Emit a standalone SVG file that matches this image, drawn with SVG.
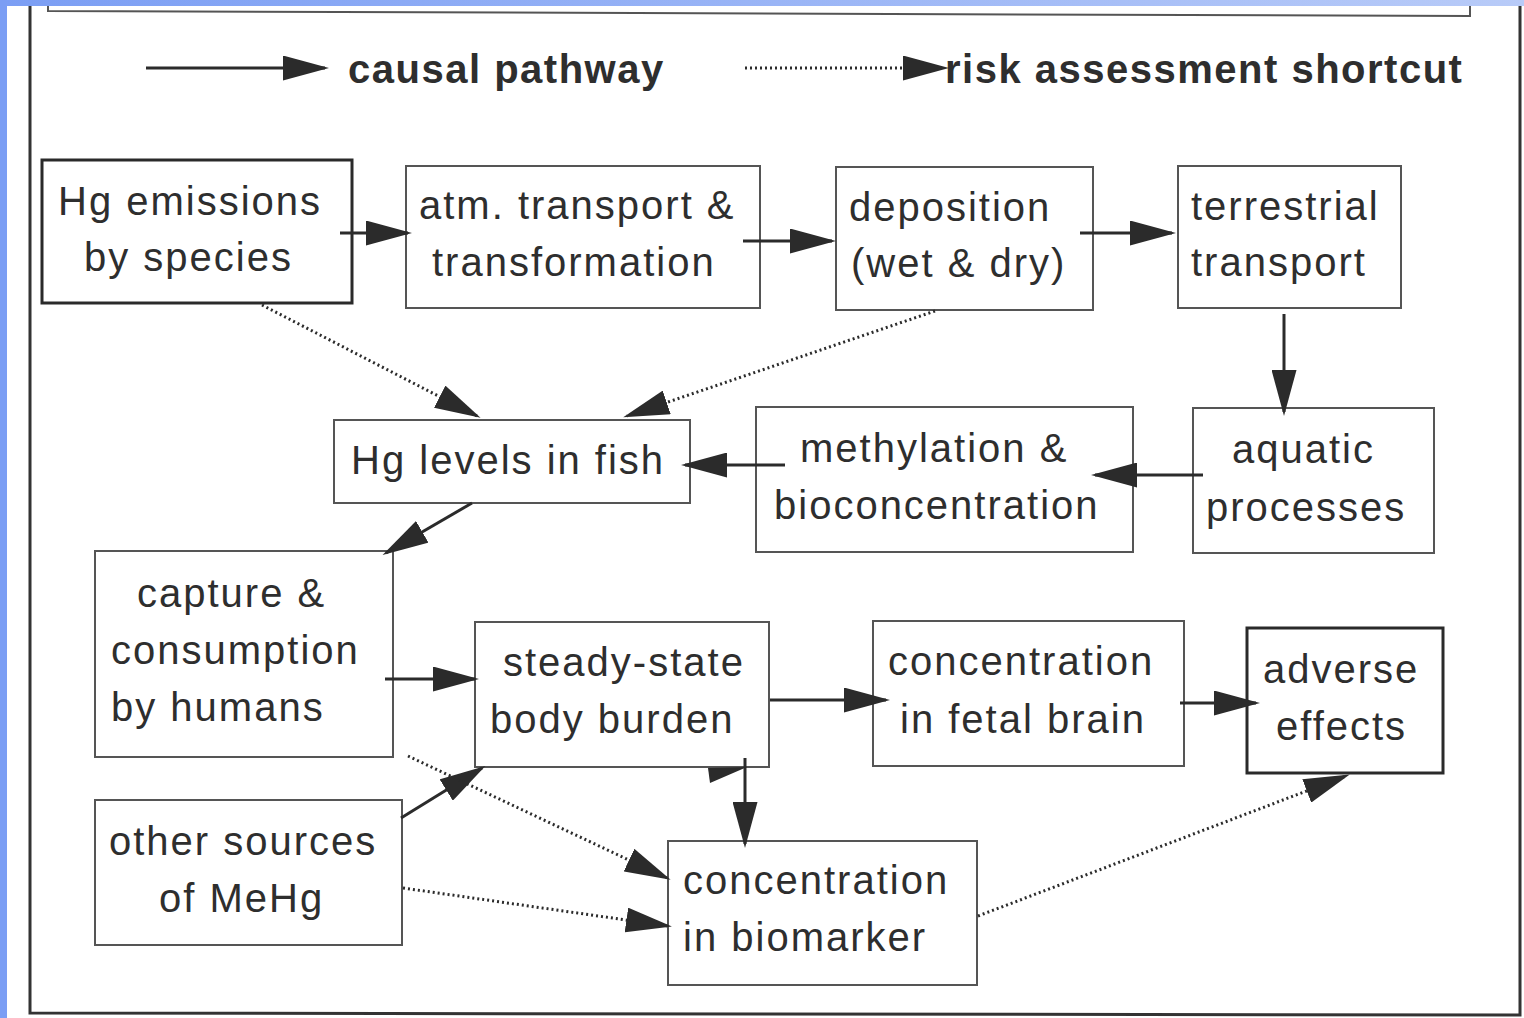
<svg xmlns="http://www.w3.org/2000/svg" width="1524" height="1018" viewBox="0 0 1524 1018">
<defs>
<linearGradient id="topg" x1="0" y1="0" x2="1" y2="0">
<stop offset="0" stop-color="#7b9ef4"/>
<stop offset="1" stop-color="#b8cbf8"/>
</linearGradient>
<marker id="ah" viewBox="0 0 46 25" refX="42" refY="12.5" markerWidth="46" markerHeight="25" markerUnits="userSpaceOnUse" orient="auto">
<path d="M0,0 L46,12.5 L0,25 Z" fill="#2b2b2b"/>
</marker>
<style>
.box{fill:#fff;stroke:#555;stroke-width:2}
.boxb{fill:#fff;stroke:#2a2a2a;stroke-width:3}
.t{font-family:"Liberation Sans",Arial,sans-serif;font-size:40px;letter-spacing:2px;fill:#2e2e2e}
.lg{font-family:"Liberation Sans",Arial,sans-serif;font-size:40px;font-weight:bold;letter-spacing:1.5px;fill:#2e2e2e}
.s{fill:none;stroke:#2b2b2b;stroke-width:3;marker-end:url(#ah)}
.d{fill:none;stroke:#2b2b2b;stroke-width:3;stroke-dasharray:2 3;marker-end:url(#ah)}
.fr{fill:none;stroke:#333;stroke-width:3}
</style>
</defs>
<rect x="0" y="0" width="1524" height="1018" fill="#fff"/>
<rect x="0" y="0" width="1524" height="6" fill="url(#topg)"/>
<rect x="0" y="0" width="7" height="1018" fill="#7b9ef4"/>
<g id="frame">
<polyline class="fr" points="30,6 30,1013 1520,1015 1520,6"/>
<polyline points="48,6 48,11 1470,16 1470,6" fill="none" stroke="#555" stroke-width="2"/>
</g>
<g id="legend">
<line class="s" x1="146" y1="68" x2="325" y2="68"/>
<text class="lg" x="348" y="83">causal pathway</text>
<line class="d" x1="745" y1="68" x2="945" y2="68"/>
<text class="lg" x="945" y="83">risk assessment shortcut</text>
</g>
<g id="n1"><rect class="boxb" x="42" y="160" width="310" height="143"/><text class="t" x="58" y="215">Hg emissions</text><text class="t" x="84" y="271">by species</text></g>
<g id="n2"><rect class="box" x="406" y="166" width="354" height="142"/><text class="t" x="419" y="219">atm. transport &amp;</text><text class="t" x="432" y="276">transformation</text></g>
<g id="n3"><rect class="box" x="836" y="167" width="257" height="143"/><text class="t" x="849" y="221">deposition</text><text class="t" x="851" y="277">(wet &amp; dry)</text></g>
<g id="n4"><rect class="box" x="1178" y="166" width="223" height="142"/><text class="t" x="1191" y="220">terrestrial</text><text class="t" x="1191" y="276">transport</text></g>
<g id="n5"><rect class="box" x="334" y="420" width="356" height="83"/><text class="t" x="351" y="474">Hg levels in fish</text></g>
<g id="n6"><rect class="box" x="756" y="407" width="377" height="145"/><text class="t" x="800" y="462">methylation &amp;</text><text class="t" x="774" y="519">bioconcentration</text></g>
<g id="n7"><rect class="box" x="1193" y="408" width="241" height="145"/><text class="t" x="1232" y="463">aquatic</text><text class="t" x="1206" y="521">processes</text></g>
<g id="n8"><rect class="box" x="95" y="551" width="298" height="206"/><text class="t" x="137" y="607">capture &amp;</text><text class="t" x="111" y="664">consumption</text><text class="t" x="111" y="721">by humans</text></g>
<g id="n9"><rect class="box" x="475" y="622" width="294" height="145"/><text class="t" x="503" y="676">steady-state</text><text class="t" x="490" y="733">body burden</text></g>
<g id="n10"><rect class="box" x="873" y="621" width="311" height="145"/><text class="t" x="888" y="675">concentration</text><text class="t" x="900" y="733">in fetal brain</text></g>
<g id="n11"><rect class="boxb" x="1247" y="628" width="196" height="145"/><text class="t" x="1263" y="683">adverse</text><text class="t" x="1276" y="740">effects</text></g>
<g id="n12"><rect class="box" x="95" y="800" width="307" height="145"/><text class="t" x="109" y="855">other sources</text><text class="t" x="159" y="912">of MeHg</text></g>
<g id="n13"><rect class="box" x="668" y="841" width="309" height="144"/><text class="t" x="683" y="894">concentration</text><text class="t" x="683" y="951">in biomarker</text></g>
<g id="connectors">
<line class="s" x1="340" y1="233" x2="408" y2="233"/>
<line class="s" x1="743" y1="241" x2="832" y2="241"/>
<line class="s" x1="1080" y1="233" x2="1172" y2="233"/>
<line class="s" x1="1284" y1="314" x2="1284" y2="412"/>
<line class="s" x1="1203" y1="475" x2="1095" y2="475"/>
<line class="s" x1="785" y1="465" x2="685" y2="465"/>
<line class="s" x1="472" y1="503" x2="386" y2="553"/>
<line class="s" x1="385" y1="679" x2="475" y2="679"/>
<line class="s" x1="770" y1="700" x2="886" y2="700"/>
<line class="s" x1="1180" y1="703" x2="1256" y2="703"/>
<line class="s" x1="401" y1="818" x2="482" y2="768"/>
<line class="s" x1="745" y1="758" x2="745" y2="844"/>
<polygon points="708,768 747,767 710,783" fill="#2b2b2b"/>
<line class="d" x1="262" y1="305" x2="477" y2="416"/>
<line class="d" x1="935" y1="311" x2="627" y2="416"/>
<line class="d" x1="408" y1="756" x2="667" y2="878"/>
<line class="d" x1="403" y1="888" x2="668" y2="926"/>
<line class="d" x1="978" y1="916" x2="1346" y2="776"/>
</g>
</svg>
